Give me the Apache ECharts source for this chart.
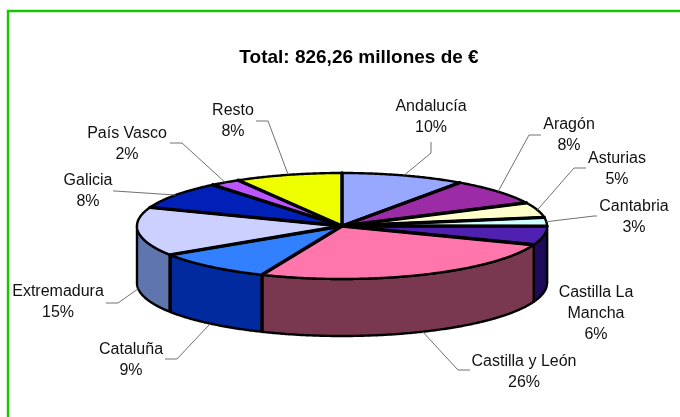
<!DOCTYPE html>
<html><head><meta charset="utf-8">
<style>html,body{margin:0;padding:0;background:#fff}#c{width:680px;height:417px}</style>
<script src="https://cdn.jsdelivr.net/npm/echarts@6/dist/echarts.min.js"></script>
</head><body><div id="c"></div>
<script>
var titleText = 'Total: 826,26 millones de €';
var regions = ['Andalucía','Aragón','Asturias','Cantabria','Castilla La Mancha','Castilla y León','Cataluña','Extremadura','Galicia','País Vasco','Resto'];
var shares = [9.7,8.0,4.6,2.6,5.7,25.5,9.4,14.8,8.4,2.4,8.4];
var topColors = ['#99A8FF','#9C2CA6','#FFFFCC','#CCFFFF','#5020B0','#FF76AC','#3380FF','#CCD0FF','#0020B8','#BB55FF','#EEFF00'];
var wallColors = ['#5C6499','#5E1A64','#99997A','#7A9999','#1F0A5A','#7A3850','#002A9E','#5F75AD','#00136E','#703399','#8F9900'];
var labelLines = [['Andalucía'],['Aragón'],['Asturias'],['Cantabria'],['Castilla La','Mancha'],['Castilla y León'],['Cataluña'],['Extremadura'],['Galicia'],['País Vasco'],['Resto']];

// layout only
var pie = {cx:342, cy:226, rx:205, ry:53, depth:57};
var labelPos = [[431,107],[569,125],[617,159],[634,207],[596,293],[524,362],[131,350],[58,292],[88,181],[127,134],[233,111]];
var elbows = [
  [[431,153],[431,142]],[[529,135],[541,135]],[[574,168],[586,168]],[[594,216],[597,216]],
  null,[[458,370],[470,370]],[[177,359],[165,359]],[[118,303],[106,303]],
  [[115,191],[113,191]],[[182,143],[170,143]],[[268,121],[256,121]]
];

var total = shares.reduce(function(a,b){return a+b;},0);
var starts = [];
shares.reduce(function(acc,v,i){starts[i]=acc;return acc+v;},0);
function deg(v){return v/total*360;}
function pt(t,dy){var r=t*Math.PI/180;return [pie.cx+pie.rx*Math.sin(r), pie.cy-pie.ry*Math.cos(r)+(dy||0)];}
function arc(a,b,dy){var out=[],n=Math.max(2,Math.ceil((b-a)*2));for(var i=0;i<=n;i++){out.push(pt(a+(b-a)*i/n,dy));}return out;}
var seriesData = regions.map(function(n,i){return {name:n,value:[i,shares[i]]};});

function renderWall(p,api){
  var i=api.value(0), a=deg(starts[i]), b=a+deg(api.value(1));
  var lo=Math.max(a,90), hi=Math.min(b,270);
  if(hi<=lo) return {type:'group',children:[]};
  var pts=arc(lo,hi,0).concat(arc(lo,hi,pie.depth).reverse());
  var kids=[{type:'polygon',shape:{points:pts},style:{fill:wallColors[i],stroke:'#000',lineWidth:2.4,lineJoin:'round'}}];
  if(lo>180){
    var s=pt(lo,0),e=pt(lo,pie.depth);
    kids.push({type:'line',shape:{x1:s[0],y1:s[1],x2:e[0],y2:e[1]},style:{stroke:'#000',lineWidth:3.4}});
  }
  return {type:'group',children:kids};
}
function renderTop(p,api){
  var i=api.value(0), a=deg(starts[i]), b=a+deg(api.value(1));
  var pts=[[pie.cx,pie.cy]].concat(arc(a,b,0));
  return {type:'polygon',shape:{points:pts},style:{fill:topColors[i],stroke:'#000',lineWidth:2.4,lineJoin:'round'}};
}
function renderSep(p,api){
  var a=deg(starts[api.value(0)]), e=pt(a,0);
  return {type:'line',shape:{x1:pie.cx,y1:pie.cy,x2:e[0],y2:e[1]},style:{stroke:'#000',lineWidth:3.4,lineCap:'round'}};
}
function renderLabel(p,api){
  var i=api.value(0), a=deg(starts[i]), mid=a+deg(api.value(1))/2;
  var kids=[];
  var front=Math.cos(mid*Math.PI/180)<0;
  if(elbows[i]){
    kids.push({type:'polyline',shape:{points:[pt(mid,front?pie.depth:0)].concat(elbows[i])},
      style:{fill:null,stroke:'#707070',lineWidth:1}});
  }
  var lines=labelLines[i].concat([Math.round(api.value(1))+'%']);
  lines.forEach(function(s,k){
    kids.push({type:'text',style:{text:s,x:labelPos[i][0],y:labelPos[i][1]+k*21,fill:'#111',
      font:'16px "Liberation Sans", Arial, sans-serif',textAlign:'center',textVerticalAlign:'middle'}});
  });
  return {type:'group',children:kids};
}
var chart=echarts.init(document.getElementById('c'),null,{renderer:'canvas'});
chart.setOption({
  animation:false, backgroundColor:'#fff',
  title:{text:titleText,left:359,top:48,padding:0,textAlign:'center',
    textStyle:{fontFamily:'"Liberation Sans", Arial, sans-serif',fontWeight:'bold',fontSize:19,color:'#000'}},
  graphic:[{type:'polyline',silent:true,shape:{points:[[8,425],[8,11],[690,11]]},
    style:{fill:null,stroke:'#16C700',lineWidth:2.4}}],
  series:[
    {type:'custom',coordinateSystem:'none',renderItem:renderWall,data:seriesData,silent:true,clip:false},
    {type:'custom',coordinateSystem:'none',renderItem:renderTop,data:seriesData,silent:true,clip:false},
    {type:'custom',coordinateSystem:'none',renderItem:renderSep,data:seriesData,silent:true,clip:false},
    {type:'custom',coordinateSystem:'none',renderItem:renderLabel,data:seriesData,silent:true,clip:false}
  ]
});
</script></body></html>
